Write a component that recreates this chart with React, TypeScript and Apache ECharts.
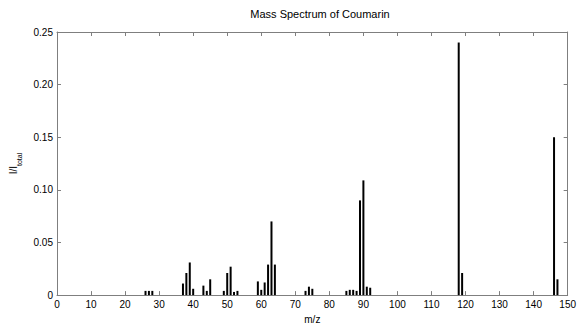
import React, { useEffect, useRef } from "react";
import * as echarts from "echarts";

const mzValues: number[] = [26, 27, 28, 37, 38, 39, 40, 43, 44, 45, 49, 50, 51, 52, 53, 59, 60, 61, 62, 63, 64, 73, 74, 75, 85, 86, 87, 88, 89, 90, 91, 92, 118, 119, 146, 147];
const intensities: number[] = [0.004, 0.004, 0.004, 0.011, 0.021, 0.031, 0.006, 0.009, 0.004, 0.015, 0.004, 0.021, 0.027, 0.003, 0.004, 0.013, 0.005, 0.012, 0.029, 0.07, 0.029, 0.004, 0.008, 0.006, 0.004, 0.005, 0.005, 0.004, 0.09, 0.109, 0.008, 0.007, 0.24, 0.021, 0.15, 0.015];

const titleText = "Mass Spectrum of Coumarin";
const xName = "m/z";

export default function App() {
  const ref = useRef<HTMLDivElement>(null);
  useEffect(() => {
    if (!ref.current) return;
    const chart = echarts.init(ref.current, null, { renderer: "svg" });
    const font = "Liberation Sans, Arial, sans-serif";
    const axisColor = "#7f7f7f";
    const data = mzValues.map((m, i) => [m, intensities[i]]);
    const line = { show: true, onZero: false, lineStyle: { color: axisColor, width: 1 } };
    const tick = { show: true, inside: true, length: 4, lineStyle: { color: axisColor } };
    chart.setOption({
      animation: false,
      backgroundColor: "#ffffff",
      textStyle: { fontFamily: font },
      title: {
        text: titleText,
        left: 315,
        textAlign: "center",
        top: 3,
        textStyle: { fontSize: 11, fontWeight: "normal", color: "#000", fontFamily: font },
      },
      grid: { left: 57, right: 7, top: 32, bottom: 28, containLabel: false },
      xAxis: [
        {
          type: "value",
          min: 0,
          max: 150,
          interval: 10,
          position: "bottom",
          name: xName,
          nameLocation: "middle",
          nameGap: 15,
          nameTextStyle: { fontSize: 10, color: "#000", fontFamily: font },
          axisLine: line,
          axisTick: tick,
          axisLabel: { fontSize: 10, color: "#000", margin: 4, fontFamily: font },
          splitLine: { show: false },
        },
        {
          type: "value",
          min: 0,
          max: 150,
          interval: 10,
          position: "top",
          axisLine: line,
          axisTick: tick,
          axisLabel: { show: false },
          splitLine: { show: false },
        },
      ],
      yAxis: [
        {
          type: "value",
          min: 0,
          max: 0.25,
          interval: 0.05,
          position: "left",
          name: "{a|I/I}{b|total}",
          nameLocation: "middle",
          nameGap: 34,
          nameRotate: 90,
          nameTextStyle: {
            color: "#000",
            fontFamily: font,
            rich: {
              a: { fontSize: 10, color: "#000", fontFamily: font, lineHeight: 14, verticalAlign: "top" },
              b: { fontSize: 7, color: "#000", fontFamily: font, lineHeight: 14, verticalAlign: "bottom", padding: [6, 0, 0, 0] },
            },
          },
          axisLine: line,
          axisTick: tick,
          axisLabel: {
            fontSize: 10,
            color: "#000",
            margin: 4,
            fontFamily: font,
            formatter: (v: number) => (v === 0 ? "0" : v.toFixed(2)),
          },
          splitLine: { show: false },
        },
        {
          type: "value",
          min: 0,
          max: 0.25,
          interval: 0.05,
          position: "right",
          axisLine: line,
          axisTick: tick,
          axisLabel: { show: false },
          splitLine: { show: false },
        },
      ],
      series: [
        {
          type: "bar",
          xAxisIndex: 0,
          yAxisIndex: 0,
          data,
          barWidth: 2,
          itemStyle: { color: "#000" },
        },
      ],
    });
    return () => chart.dispose();
  }, []);
  return <div ref={ref} style={{ width: 579, height: 329, position: "absolute", left: 0, top: 0 }} />;
}
